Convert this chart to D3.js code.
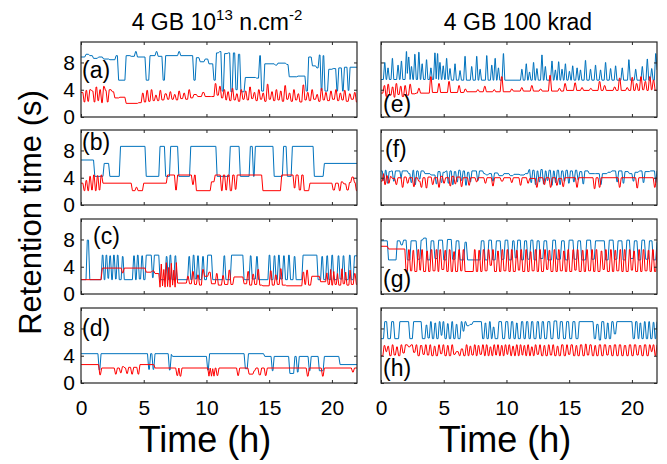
<!DOCTYPE html>
<html>
<head>
<meta charset="utf-8">
<script src="https://cdn.jsdelivr.net/npm/d3@7"></script>
<style>
  body { margin: 0; background: #fff; }
  svg { display: block; font-family: "Liberation Sans", Arial, sans-serif; }
</style>
</head>
<body>
<svg id="canvas"></svg>
<script>
// step data: [time (h), retention time (s)] -- value holds from that time on
let aBlue = [[0,8.8],[0.3,9.2],[0.6,9.0],[0.9,8.6],[1.3,8.8],[1.7,8.5],[2.2,8.4],[2.7,9.0],[2.9,5.4],[3.5,9.0],[3.9,8.9],[4.25,9.6],[4.4,8.8],[5.1,5.4],[5.4,9.0],[5.9,9.6],[6.05,8.9],[6.45,5.4],[6.65,9.0],[7.7,9.6],[7.85,9.0],[8.9,5.4],[9.1,8.7],[9.4,8.1],[9.8,8.5],[10.1,7.8],[10.5,5.4],[10.7,9.4],[10.95,9.6],[11.15,3.8],[11.35,9.3],[11.65,9.4],[11.85,3.7],[12.05,9.4],[12.25,4.0],[12.45,9.2],[12.65,3.7],[13.0,5.8],[13.9,5.7],[14.15,9.0],[14.3,3.8],[14.55,7.8],[15.4,7.6],[15.6,7.9],[16.3,7.7],[16.5,5.9],[17.2,6.0],[17.85,3.8],[18.05,8.8],[18.35,7.5],[18.7,7.2],[18.9,9.1],[19.05,3.9],[19.2,9.0],[19.35,3.8],[19.65,7.0],[20.0,7.1],[20.3,3.8],[20.45,7.2],[20.75,3.8],[20.9,7.3],[21.2,3.9],[21.35,7.3]]
let aRed = [[0,3.6],[0.15,2.2],[0.3,3.9],[0.45,2.3],[0.6,4.0],[0.8,3.8],[0.95,2.2],[1.1,4.4],[1.25,2.4],[1.4,4.0],[1.55,2.1],[1.7,4.5],[1.85,3.9],[2.0,2.2],[2.15,4.0],[2.4,3.7],[2.6,2.8],[3.0,2.9],[3.5,2.0],[4.5,2.1],[4.8,3.5],[4.95,2.2],[5.15,3.9],[5.3,2.3],[5.5,4.0],[5.65,2.4],[5.85,3.2],[6.0,2.4],[6.2,3.9],[6.35,2.5],[6.6,3.4],[6.8,2.6],[7.0,3.7],[7.15,2.6],[7.35,3.3],[7.5,2.5],[7.7,3.8],[7.85,2.7],[8.1,3.5],[8.25,2.6],[8.5,4.0],[8.65,2.8],[8.9,3.3],[9.2,3.0],[9.6,3.6],[9.8,3.0],[10.3,3.0],[10.6,4.9],[10.75,3.2],[10.95,4.5],[11.1,2.8],[11.3,4.0],[11.45,2.5],[11.6,3.7],[11.75,2.4],[11.95,4.2],[12.1,2.5],[12.3,3.4],[12.45,2.3],[12.65,4.0],[12.8,2.6],[13.0,3.8],[13.15,2.5],[13.35,4.4],[13.5,2.7],[13.7,3.6],[13.85,2.4],[14.05,4.0],[14.2,2.6],[14.4,3.5],[14.55,2.3],[14.75,4.8],[14.9,2.6],[15.1,3.7],[15.25,2.4],[15.45,4.0],[15.6,2.5],[15.8,3.8],[15.95,2.3],[16.15,4.6],[16.3,2.6],[16.5,3.5],[16.65,2.3],[16.85,4.0],[17.0,2.5],[17.2,3.4],[17.35,2.2],[17.6,4.7],[17.75,2.5],[17.95,3.6],[18.1,2.4],[18.3,4.0],[18.45,2.6],[18.7,3.3],[18.85,2.3],[19.05,4.2],[19.2,2.5],[19.4,3.6],[19.55,2.4],[19.8,3.8],[19.95,2.6],[20.2,4.0],[20.35,2.4],[20.55,3.5],[20.7,2.5],[20.9,3.9],[21.05,2.3],[21.3,3.4],[21.45,2.6],[21.7,3.6],[21.85,2.2]]

let bBlue = [[0,6.6],[1.0,4.2],[1.75,6.1],[2.2,4.2],[3.05,8.6],[5.1,4.2],[6.2,8.6],[6.65,4.2],[7.05,8.6],[7.7,4.2],[8.65,8.6],[10.75,4.2],[11.8,8.6],[12.6,4.2],[13.4,8.6],[13.65,4.2],[13.8,8.6],[15.3,4.2],[16.05,8.6],[16.35,4.2],[16.75,8.6],[18.5,4.2],[19.3,6.1]]
let bRed = [[0,3.2],[0.15,2.1],[0.3,3.6],[0.45,2.1],[0.6,4.2],[0.75,2.2],[0.9,4.4],[1.05,2.1],[1.2,4.3],[1.35,2.2],[1.5,4.4],[1.65,3.2],[4.0,2.1],[4.3,2.6],[4.45,2.1],[4.9,3.2],[6.8,4.4],[7.45,2.2],[7.6,4.4],[8.8,3.0],[8.95,4.4],[9.1,2.1],[10.3,3.4],[10.6,4.4],[11.1,2.1],[11.25,4.4],[11.45,2.2],[11.6,4.4],[11.8,2.1],[12.0,4.4],[12.2,2.3],[12.35,4.4],[14.4,2.1],[15.9,4.4],[16.9,2.5],[17.05,4.4],[17.3,2.2],[17.5,4.4],[17.7,2.1],[18.15,3.2],[20.0,2.2],[20.2,3.2],[20.5,2.1],[20.65,3.4],[20.85,3.1],[21.1,2.2],[21.3,3.3],[21.5,4.1],[21.7,3.3],[21.85,2.1]]

let cBlue = [[0,2.1],[0.4,7.9],[0.6,2.1],[1.6,5.7],[1.75,2.1],[1.9,5.7],[2.05,2.3],[2.2,5.6],[2.35,2.1],[2.5,5.7],[2.65,2.2],[2.8,5.7],[2.95,2.1],[3.2,5.5],[3.35,2.1],[4.1,5.6],[4.25,2.1],[4.4,5.7],[4.55,2.2],[4.75,5.6],[4.9,2.1],[5.1,5.7],[5.6,2.4],[5.75,5.7],[6.2,2.1],[6.7,5.5],[6.85,2.1],[7.0,5.7],[7.15,2.1],[7.4,5.6],[7.55,2.1],[8.5,5.5],[8.65,2.1],[8.85,5.7],[9.0,2.2],[9.2,5.6],[9.35,2.1],[9.6,5.5],[9.75,2.1],[10.0,5.7],[10.4,2.1],[11.3,5.6],[11.45,2.1],[11.9,5.7],[12.9,2.1],[13.4,5.6],[13.55,2.2],[13.9,5.5],[14.05,2.1],[14.9,5.7],[15.05,2.1],[15.3,5.6],[15.45,2.1],[15.65,5.7],[15.8,2.2],[16.05,5.6],[16.2,2.1],[16.45,5.7],[16.6,2.1],[16.9,5.5],[17.05,2.1],[17.6,5.7],[18.8,2.1],[19.1,5.5],[19.25,2.1],[19.5,5.6],[19.65,2.1],[19.9,5.7],[20.05,2.1],[20.4,5.6],[20.55,2.2],[20.8,5.6],[20.95,2.1],[21.3,5.7],[21.45,2.1],[21.7,5.6]]
let cRed = [[0,2.1],[1.6,3.8],[3.2,3.1],[3.35,3.8],[5.1,3.2],[5.6,3.4],[5.8,3.0],[6.2,1.0],[6.3,4.4],[6.4,1.2],[6.5,3.6],[6.6,1.0],[6.7,4.6],[6.8,1.1],[6.9,3.9],[7.0,1.0],[7.1,4.5],[7.2,1.3],[7.3,3.5],[7.4,1.0],[7.5,4.6],[7.6,1.6],[8.4,2.6],[8.55,1.5],[8.8,3.3],[8.95,1.4],[9.2,2.8],[9.35,1.3],[9.6,3.6],[9.75,2.6],[10.1,3.2],[10.3,1.5],[10.7,3.0],[10.85,1.3],[11.2,2.7],[11.35,1.4],[11.7,3.5],[11.85,1.4],[12.1,2.5],[12.9,1.5],[13.2,3.3],[13.35,1.3],[13.6,2.9],[13.75,1.4],[14.0,3.6],[14.15,1.3],[14.4,1.2],[15.0,3.4],[15.15,1.3],[15.4,2.8],[15.55,1.4],[15.8,3.7],[15.95,1.3],[16.3,1.2],[17.6,3.2],[17.75,1.4],[17.9,3.5],[18.05,1.3],[18.3,2.6],[19.0,1.8],[19.5,3.1],[19.6,1.4],[19.8,3.6],[19.9,1.3],[20.05,3.3],[20.15,1.4],[20.35,3.0],[20.45,1.3],[20.7,3.7],[20.8,1.5],[21.0,3.2],[21.1,1.3],[21.35,3.5],[21.45,1.4],[21.7,3.0],[21.85,1.4]]

let dBlue = [[0,4.3],[1.35,1.9],[1.5,4.3],[5.3,2.0],[5.45,4.3],[5.65,2.0],[5.8,4.3],[6.95,1.9],[7.1,4.2],[7.2,3.9],[10.0,1.9],[10.15,4.3],[13.0,2.1],[13.25,4.3],[14.55,3.9],[15.15,1.8],[15.3,3.9],[16.55,1.4],[16.95,3.9],[17.15,1.6],[17.3,3.9],[18.1,1.8],[18.25,3.9],[18.9,1.8],[19.3,3.9],[20.55,2.7]]
let dRed = [[0,2.7],[1.4,1.2],[1.55,2.2],[2.65,1.3],[2.8,2.2],[3.05,1.5],[3.2,2.4],[3.4,2.2],[3.55,1.4],[3.7,2.3],[3.95,1.3],[4.1,2.3],[4.45,1.3],[4.6,2.7],[5.8,2.2],[7.55,1.1],[7.7,2.2],[7.8,1.0],[7.95,2.2],[10.1,1.0],[10.2,2.2],[10.3,1.0],[10.4,2.1],[10.5,1.0],[10.6,2.2],[10.75,1.1],[10.9,2.2],[12.4,1.1],[12.55,2.2],[13.3,1.3],[13.7,1.8],[13.85,2.2],[14.1,1.2],[14.3,2.2],[14.6,1.1],[14.75,2.2],[17.95,1.0],[18.1,2.2],[19.15,1.0],[19.3,2.2],[21.55,1.6],[21.7,2.2]]

let eBlue = [[0,5.5],[0.19,8.0],[0.31,5.5],[0.45,7.2],[0.57,5.5],[0.8,8.6],[0.92,5.5],[1.25,7.6],[1.37,5.5],[1.52,8.2],[1.64,5.5],[1.92,9.6],[2.04,6.4],[2.1,8.8],[2.22,5.5],[2.32,7.4],[2.44,5.5],[2.59,9.2],[2.71,5.5],[2.91,9.5],[3.03,5.5],[3.17,7.8],[3.29,5.5],[3.52,8.4],[3.64,5.5],[3.87,7.2],[3.99,5.5],[4.19,9.4],[4.31,5.6],[4.4,9.3],[4.52,5.5],[4.59,8.0],[4.71,5.5],[4.85,7.5],[4.97,5.5],[5.12,8.6],[5.24,5.5],[5.39,7.1],[5.51,5.4],[5.79,7.8],[5.91,5.4],[6.19,6.8],[6.31,5.4],[6.59,8.9],[6.71,5.4],[7.12,7.4],[7.24,5.4],[7.52,8.9],[7.64,5.4],[7.79,7.0],[7.91,5.4],[8.32,9.0],[8.44,5.4],[8.72,7.6],[8.84,5.4],[8.99,8.6],[9.11,5.4],[9.25,7.2],[9.37,5.4],[9.65,9.3],[9.77,5.4],[11.12,7.0],[11.24,5.4],[11.47,7.8],[11.59,5.4],[11.73,6.6],[11.85,5.4],[12.05,8.0],[12.17,5.4],[12.32,7.1],[12.44,5.4],[12.72,9.1],[12.84,5.4],[12.99,7.4],[13.11,5.4],[13.52,8.2],[13.64,5.4],[13.79,6.9],[13.91,5.4],[14.05,8.1],[14.17,5.4],[14.32,7.0],[14.44,5.4],[14.59,7.8],[14.71,5.4],[14.91,6.7],[15.03,5.4],[15.17,7.5],[15.29,5.4],[15.52,7.2],[15.64,5.4],[15.79,6.9],[15.91,5.4],[16.19,8.3],[16.31,5.4],[16.59,7.0],[16.71,5.4],[16.99,7.6],[17.11,5.4],[17.39,6.9],[17.51,5.4],[17.79,8.0],[17.91,5.4],[18.19,7.1],[18.31,5.4],[18.59,7.5],[18.71,5.4],[19.12,7.2],[19.24,5.4],[19.65,8.4],[19.77,5.4],[20.19,7.0],[20.31,5.4],[20.72,7.4],[20.84,5.4],[21.12,8.5],[21.24,5.4],[21.47,7.1],[21.59,5.4],[21.79,9.3],[21.91,6.9]]
let eRed = [[0,3.5],[0.15,4.6],[0.3,3.0],[0.45,4.8],[0.6,3.2],[0.8,4.4],[0.95,2.9],[1.1,4.9],[1.25,3.3],[1.45,4.5],[1.6,3.0],[1.8,4.6],[1.95,3.2],[2.2,4.8],[2.35,3.4],[2.7,3.5],[2.9,4.2],[3.05,3.5],[3.85,5.9],[4.0,3.6],[4.5,4.9],[4.65,3.6],[5.3,5.2],[5.45,3.6],[6.1,4.6],[6.25,3.6],[6.6,4.1],[6.75,3.7],[7.6,4.0],[7.75,3.7],[8.15,4.5],[8.3,3.7],[8.9,4.0],[9.05,3.7],[9.5,5.9],[9.65,3.7],[10.3,4.1],[10.45,3.8],[11.1,4.3],[11.25,3.8],[11.9,4.6],[12.05,3.8],[12.6,4.1],[12.75,3.8],[13.35,6.1],[13.5,3.8],[14.1,4.2],[14.25,3.8],[14.55,4.9],[14.7,3.9],[15.35,5.0],[15.5,3.9],[15.9,4.3],[16.05,3.9],[16.6,4.2],[16.75,3.9],[17.3,5.2],[17.45,3.9],[17.7,4.6],[17.85,3.9],[18.5,4.4],[18.65,3.9],[18.9,5.7],[19.05,3.9],[19.5,4.3],[19.65,3.9],[19.9,5.8],[20.05,3.9],[20.25,4.9],[20.4,3.9],[20.6,5.9],[20.75,4.0],[20.95,5.2],[21.1,3.9],[21.3,5.9],[21.45,4.0],[21.6,5.4],[21.75,3.9]]

let fBlue = [[0,5.0],[0.1,3.6],[0.25,5.1],[0.4,3.2],[0.55,4.9],[0.75,5.0],[0.9,3.5],[1.05,5.0],[1.5,3.9],[1.6,5.0],[2.1,4.6],[2.3,3.3],[2.45,5.1],[2.6,3.0],[2.75,5.0],[2.95,3.8],[3.1,5.0],[3.4,4.6],[3.9,4.4],[4.3,3.1],[4.45,4.9],[4.7,3.3],[4.85,4.8],[5.1,5.0],[5.25,3.2],[5.4,5.0],[5.6,3.0],[5.75,4.9],[5.95,3.4],[6.1,5.1],[6.3,3.6],[6.45,5.0],[6.65,2.9],[6.8,4.8],[7.0,3.4],[7.15,5.0],[7.6,3.6],[7.75,5.0],[8.1,4.6],[8.3,4.4],[8.5,4.6],[8.8,3.5],[8.95,4.7],[9.3,4.3],[9.7,4.6],[10.2,4.3],[10.5,4.5],[11.0,4.4],[11.4,4.6],[11.7,5.2],[11.85,3.3],[12.0,5.1],[12.2,3.0],[12.35,5.0],[12.5,3.4],[12.65,5.2],[12.85,3.1],[13.0,5.0],[13.15,3.6],[13.3,5.1],[13.5,2.9],[13.65,5.0],[13.8,3.3],[13.95,5.1],[14.15,3.0],[14.3,5.0],[14.5,3.5],[14.65,5.1],[14.85,3.2],[15.0,5.0],[15.25,3.4],[15.4,5.1],[15.6,3.7],[15.75,4.9],[16.0,3.1],[16.15,5.0],[16.5,4.6],[17.0,4.6],[17.4,3.0],[17.55,4.6],[18.0,4.8],[18.3,5.0],[18.7,3.4],[18.85,5.0],[19.2,3.2],[19.35,4.9],[19.7,4.6],[20.0,3.5],[20.15,4.8],[20.5,5.0],[20.8,3.3],[20.95,4.9],[21.4,5.0],[21.8,3.3],[21.9,5.0]]
let fRed = [[0,3.5],[0.1,4.6],[0.2,3.0],[0.35,4.3],[0.5,3.2],[0.65,4.2],[0.8,3.9],[1.1,3.0],[1.25,4.0],[1.6,2.6],[1.75,4.1],[2.0,3.2],[2.15,4.0],[2.5,2.7],[2.65,4.0],[2.9,3.5],[3.1,2.6],[3.25,4.0],[3.5,2.5],[3.65,4.1],[4.0,3.0],[4.15,4.0],[4.5,2.6],[4.65,4.2],[4.9,3.2],[5.05,4.0],[5.4,2.8],[5.55,4.2],[5.8,3.1],[5.95,4.1],[6.3,2.7],[6.45,4.0],[6.9,2.9],[7.05,4.0],[7.5,3.4],[7.65,4.0],[8.2,3.2],[8.35,4.0],[8.8,2.8],[8.95,4.0],[9.5,3.5],[9.7,4.0],[10.3,3.3],[10.45,4.0],[11.0,2.9],[11.15,4.0],[11.6,3.2],[11.75,3.9],[12.3,2.6],[12.45,4.0],[12.9,3.0],[13.05,4.0],[13.4,2.6],[13.55,4.0],[13.9,2.9],[14.05,3.9],[14.4,2.7],[14.55,4.0],[15.5,2.6],[15.65,4.0],[16.9,2.4],[17.05,4.0],[17.3,2.6],[17.45,4.0],[18.9,2.6],[19.05,4.0],[20.3,2.5],[20.45,4.0],[21.7,2.6],[21.85,4.0]]

let gBlue = [[0,7.8],[0.5,5.0],[1.2,7.8],[1.5,7.2],[1.7,7.9],[2.0,5.0],[2.3,7.8],[2.8,5.1],[3.1,7.9],[3.3,8.2],[3.6,5.0],[3.9,7.8],[4.2,5.2],[4.5,7.9],[4.9,5.0],[5.2,8.0],[5.6,5.1],[5.9,7.8],[6.2,5.0],[6.6,7.6],[6.8,5.0],[7.9,7.8],[8.2,5.0],[8.5,7.9],[8.8,5.0],[9.1,7.8],[9.5,5.1],[9.8,7.9],[10.1,5.0],[10.4,7.8],[10.6,5.3],[10.8,7.9],[11.1,5.0],[11.35,7.8],[11.6,5.1],[11.85,7.9],[12.1,5.0],[12.35,7.8],[12.6,5.2],[12.9,7.8],[13.2,5.0],[13.6,7.9],[13.9,5.1],[14.3,7.8],[14.6,5.0],[14.9,7.9],[15.3,5.1],[15.6,7.8],[15.9,5.0],[16.3,7.9],[16.7,5.1],[17.0,7.8],[17.8,5.0],[18.1,7.9],[18.5,5.1],[18.8,7.8],[19.2,5.0],[19.5,7.9],[19.8,5.2],[20.1,7.8],[20.4,5.0],[20.7,7.9],[21.0,5.1],[21.3,7.8],[21.6,5.0],[21.9,7.6]]
let gRed = [[0,7.0],[0.5,6.6],[1.9,3.3],[2.1,6.5],[2.25,3.4],[2.45,6.4],[2.6,3.3],[2.85,6.5],[3.0,3.5],[3.15,6.5],[3.3,3.3],[3.55,6.3],[3.7,3.3],[3.9,6.5],[4.05,3.4],[4.3,6.5],[4.45,3.3],[4.6,6.5],[4.75,3.6],[5.0,6.4],[5.15,3.3],[5.35,6.5],[5.5,3.3],[5.7,6.2],[5.85,3.3],[6.1,6.5],[6.25,3.4],[6.45,6.5],[6.6,3.3],[7.35,6.5],[7.5,3.3],[7.7,6.4],[7.85,3.3],[8.05,6.5],[8.2,3.4],[8.45,6.5],[8.6,4.2],[8.8,6.5],[8.95,3.3],[9.2,6.3],[9.35,3.3],[9.55,6.5],[9.7,3.4],[9.95,6.5],[10.1,3.3],[10.3,6.5],[10.45,3.3],[10.7,6.4],[10.85,3.5],[11.05,6.5],[11.2,3.3],[11.45,6.5],[11.6,3.3],[11.8,6.2],[11.95,3.4],[12.2,6.5],[12.35,3.3],[12.55,6.5],[12.7,3.3],[12.95,6.5],[13.1,3.6],[13.3,6.4],[13.45,3.3],[13.7,6.5],[13.85,3.3],[14.05,6.5],[14.2,3.4],[14.45,6.3],[14.6,3.3],[14.8,6.5],[14.95,3.3],[15.2,6.5],[15.35,3.5],[15.55,6.5],[15.7,3.3],[15.95,6.4],[16.1,3.3],[16.3,6.5],[16.45,3.4],[16.7,6.5],[16.85,3.3],[17.05,6.5],[17.2,3.3],[17.45,6.3],[17.6,3.6],[17.8,6.5],[17.95,3.3],[18.2,6.5],[18.35,3.3],[18.55,6.4],[18.7,3.4],[18.95,6.5],[19.1,3.3],[19.3,6.5],[19.45,3.3],[19.7,6.5],[19.85,3.5],[20.05,6.3],[20.2,3.3],[20.45,6.5],[20.6,3.3],[20.8,6.5],[20.95,3.4],[21.2,6.4],[21.35,3.3],[21.55,6.5],[21.7,3.3],[21.9,6.5]]

let hBlue = [[0,6.5],[0.2,9.0],[0.45,6.5],[0.75,9.0],[1.0,6.5],[1.4,9.0],[2.2,6.5],[2.5,9.0],[3.2,6.5],[3.5,8.5],[3.65,6.6],[3.85,9.0],[4.0,6.5],[4.2,8.8],[4.35,6.5],[4.55,9.0],[4.7,7.0],[4.85,9.0],[5.0,6.5],[5.2,8.7],[5.35,6.5],[5.55,9.0],[5.7,6.5],[5.9,8.6],[6.05,6.5],[6.3,9.0],[6.45,7.6],[6.6,9.0],[6.75,8.4],[7.0,8.6],[7.25,9.0],[8.0,6.5],[8.2,8.8],[8.35,6.5],[8.55,9.0],[8.7,6.5],[8.85,8.2],[9.0,6.5],[9.3,9.0],[9.6,6.5],[9.85,9.0],[10.1,6.5],[10.3,9.0],[10.5,6.5],[10.7,8.8],[10.85,6.5],[11.1,9.0],[11.3,6.5],[11.5,9.0],[11.7,6.5],[11.9,9.0],[12.1,6.5],[12.35,9.0],[12.55,6.5],[12.75,9.0],[12.95,6.5],[13.2,9.0],[13.45,6.5],[13.7,9.1],[14.0,6.5],[14.2,9.0],[14.45,6.5],[14.7,9.0],[14.95,6.5],[15.2,9.0],[15.45,6.5],[15.7,9.0],[16.9,6.5],[17.1,8.6],[17.3,6.3],[17.5,9.0],[17.75,6.5],[17.95,8.8],[18.1,6.5],[18.3,9.0],[18.5,7.2],[18.7,9.0],[20.0,6.5],[20.2,9.0],[20.4,6.5],[20.55,8.8],[20.7,6.5],[20.9,9.0],[21.05,6.5],[21.25,9.0],[21.4,6.5],[21.6,8.9],[21.75,6.5],[21.9,9.0]]
let hRed = [[0,4.0],[0.15,5.5],[0.3,4.6],[0.45,5.4],[0.6,4.0],[0.8,5.6],[0.95,4.1],[1.15,5.3],[1.3,4.0],[1.5,5.6],[1.65,4.4],[1.85,5.6],[2.1,5.3],[2.3,5.6],[2.5,4.5],[2.7,5.6],[2.85,4.0],[3.05,5.5],[3.25,4.2],[3.45,5.6],[3.6,4.1],[3.8,5.6],[3.95,4.0],[4.15,5.4],[4.3,4.0],[4.5,5.6],[4.65,4.3],[4.85,5.6],[5.0,4.0],[5.2,5.5],[5.35,4.0],[5.55,5.6],[5.7,4.2],[5.9,4.6],[6.15,4.0],[6.3,5.0],[6.5,4.0],[6.7,5.6],[6.85,4.0],[7.0,5.4],[7.15,4.1],[7.35,5.6],[7.5,4.0],[7.65,5.5],[7.8,4.2],[8.0,5.6],[8.15,4.0],[8.3,5.6],[8.45,4.0],[8.6,5.3],[8.75,4.0],[8.9,5.6],[9.05,4.1],[9.2,5.6],[9.35,4.0],[9.5,5.5],[9.65,4.0],[9.8,5.6],[9.95,4.2],[10.1,5.6],[10.25,4.0],[10.4,5.4],[10.55,4.0],[10.7,5.6],[10.85,4.0],[11.0,5.6],[11.15,4.1],[11.3,5.5],[11.45,4.0],[11.6,5.6],[11.75,4.0],[11.9,5.3],[12.05,4.0],[12.2,5.6],[12.35,4.2],[12.55,5.6],[12.7,4.0],[12.9,5.5],[13.05,4.0],[13.25,5.6],[13.4,4.1],[13.6,5.6],[13.75,4.0],[13.95,5.4],[14.1,4.0],[14.3,5.6],[14.5,4.0],[14.7,5.6],[14.85,4.2],[15.05,5.6],[15.25,4.0],[15.45,5.5],[15.6,4.0],[15.8,5.6],[16.0,4.0],[16.2,5.7],[16.35,4.1],[16.55,5.6],[16.75,4.0],[16.95,5.5],[17.1,4.0],[17.3,5.6],[17.5,4.0],[17.7,5.6],[17.9,4.1],[18.1,5.5],[18.3,4.0],[18.5,5.6],[18.7,4.0],[18.9,5.6],[19.1,4.0],[19.3,5.5],[19.5,4.0],[19.7,5.6],[19.9,4.0],[20.1,5.6],[20.3,4.1],[20.5,5.5],[20.7,4.0],[20.9,5.6],[21.1,4.0],[21.3,5.6],[21.45,4.6],[21.6,5.6],[21.75,4.0],[21.9,5.6]]

let xTicks = [0, 5, 10, 15, 20]
let yTicks = [0, 4, 8]
let columnTitles = ["4 GB 10", "4 GB 100 krad"]
let panelLetters = ["(a)", "(b)", "(c)", "(d)", "(e)", "(f)", "(g)", "(h)"]

let width = 667
let height = 464
let colX = [81, 381]
let panelW = 276
let rowY = [42, 130, 219, 308]
let panelH = 75
let ramp = 0.1

let svg = d3.select("#canvas")
    .attr("width", width)
    .attr("height", height)

let xScale = d3.scaleLinear().domain([0, 22]).range([0, panelW])
let yScale = d3.scaleLinear().domain([0, 11]).range([panelH, 0])

let panels = [
    {col: 0, row: 0, blue: aBlue, red: aRed, lx: 1, ly: 36},
    {col: 0, row: 1, blue: bBlue, red: bRed, lx: 1, ly: 20},
    {col: 0, row: 2, blue: cBlue, red: cRed, lx: 12, ly: 25},
    {col: 0, row: 3, blue: dBlue, red: dRed, lx: 1, ly: 28},
    {col: 1, row: 0, blue: eBlue, red: eRed, lx: 2, ly: 70},
    {col: 1, row: 1, blue: fBlue, red: fRed, lx: 4, ly: 27},
    {col: 1, row: 2, blue: gBlue, red: gRed, lx: 2, ly: 68},
    {col: 1, row: 3, blue: hBlue, red: hRed, lx: 2, ly: 68}
]

// turn step changes into points with a short ramp between levels
let toPoints = (steps) => {
    let pts = []
    steps.forEach((s, i) => {
        if (i == 0) {
            pts.push([s[0], s[1]])
            return
        }
        let t2 = s[0] + ramp
        if (steps[i + 1] && t2 > steps[i + 1][0]) t2 = steps[i + 1][0]
        pts.push([s[0], steps[i - 1][1]])
        pts.push([t2, s[1]])
    })
    pts.push([22, steps[steps.length - 1][1]])
    return pts
}

let line = d3.line()
    .x((d) => xScale(d[0]))
    .y((d) => yScale(d[1]))

let drawPanel = (p, i) => {
    let g = svg.append("g")
        .attr("transform", "translate(" + colX[p.col] + "," + rowY[p.row] + ")")

    svg.append("clipPath").attr("id", "clip" + i)
        .append("rect").attr("width", panelW).attr("height", panelH)

    let plot = g.append("g").attr("clip-path", "url(#clip" + i + ")")
    plot.append("path")
        .attr("d", line(toPoints(p.blue)))
        .attr("fill", "none")
        .attr("stroke", "#0072BD")
        .attr("stroke-width", 1)
    plot.append("path")
        .attr("d", line(toPoints(p.red)))
        .attr("fill", "none")
        .attr("stroke", "#FF0000")
        .attr("stroke-width", 1)

    let left = d3.axisLeft(yScale).tickValues(yTicks).tickSize(-3).tickPadding(6)
    let right = d3.axisRight(yScale).tickValues(yTicks).tickSize(-3).tickFormat("")
    let bottom = d3.axisBottom(xScale).tickValues(xTicks).tickSize(-3).tickPadding(17)
    let top = d3.axisTop(xScale).tickValues(xTicks).tickSize(-3).tickFormat("")

    if (p.col != 0) left.tickFormat("")
    if (p.row != 3) bottom.tickFormat("")

    g.append("g").attr("class", "axis").call(left)
    g.append("g").attr("class", "axis").attr("transform", "translate(" + panelW + ",0)").call(right)
    g.append("g").attr("class", "axis").attr("transform", "translate(0," + panelH + ")").call(bottom)
    g.append("g").attr("class", "axis").call(top)

    g.append("rect")
        .attr("width", panelW)
        .attr("height", panelH)
        .attr("fill", "none")
        .attr("stroke", "#262626")
        .attr("stroke-width", 1.2)

    g.append("text")
        .attr("x", p.lx)
        .attr("y", p.ly)
        .attr("font-size", 23)
        .attr("fill", "#000")
        .text(panelLetters[i])
}

panels.forEach(drawPanel)

svg.selectAll(".axis .domain").remove()
svg.selectAll(".axis line").attr("stroke", "#262626")
svg.selectAll(".axis text")
    .attr("font-size", 21)
    .attr("fill", "#000")
    .attr("font-family", "Liberation Sans, Arial, sans-serif")

// column titles
let t1 = svg.append("text")
    .attr("x", colX[0] + panelW / 2 - 2)
    .attr("y", 30)
    .attr("text-anchor", "middle")
    .attr("font-size", 23)
t1.append("tspan").text(columnTitles[0])
t1.append("tspan").attr("font-size", 15).attr("dy", -10).text("13")
t1.append("tspan").attr("dy", 10).text(" n.cm")
t1.append("tspan").attr("font-size", 15).attr("dy", -10).text("-2")

svg.append("text")
    .attr("x", colX[1] + panelW / 2 - 1)
    .attr("y", 30)
    .attr("text-anchor", "middle")
    .attr("font-size", 23)
    .text(columnTitles[1])

// axis titles
colX.forEach((x) => {
    svg.append("text")
        .attr("x", x + panelW / 2 - 14)
        .attr("y", 452)
        .attr("text-anchor", "middle")
        .attr("font-size", 36)
        .text("Time (h)")
})

svg.append("text")
    .attr("transform", "translate(41," + (rowY[0] + (rowY[3] + panelH - rowY[0]) / 2) + ") rotate(-90)")
    .attr("text-anchor", "middle")
    .attr("font-size", 31)
    .text("Retention time (s)")
</script>
</body>
</html>
